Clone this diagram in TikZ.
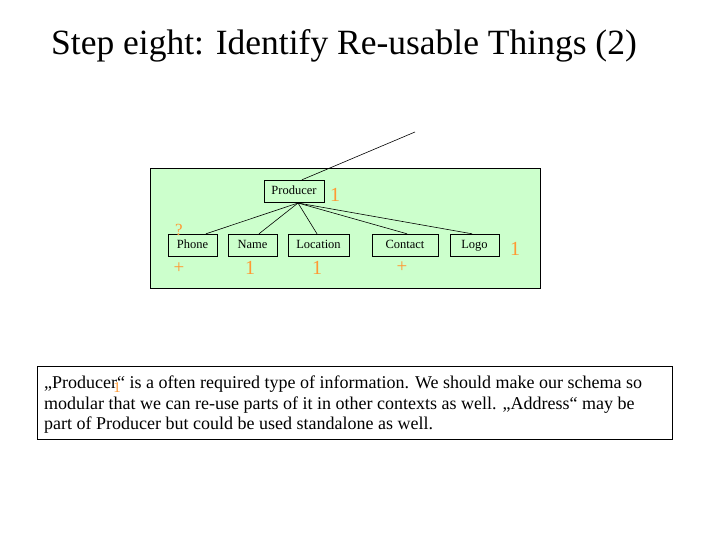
\documentclass[tikz,border=0pt]{standalone}
\usepackage{fontspec}
\setmainfont{Liberation Serif}
\usetikzlibrary{positioning}
\definecolor{panelgreen}{HTML}{CCFFCC}
\definecolor{markorange}{HTML}{FF9933}

\begin{document}
\begin{tikzpicture}[
    x=1pt, y=-1pt,
    thin,
    entity/.style={rectangle, draw=black, fill=panelgreen, minimum height=22pt, inner sep=1pt, text height=9pt, text depth=2.5pt, font=\fontsize{12.5}{13}\selectfont},
    card/.style={text=markorange, inner sep=0pt, font=\fontsize{20}{20}\selectfont},
    link/.style={draw=black, line width=0.6pt}
]
\useasboundingbox (0,0) rectangle (720,540);

% Title
\node[anchor=west, inner sep=0pt, font=\fontsize{35.5}{38}\selectfont] (title) at (51,46) {Step eight: Identify Re-usable Things (2)};

% Panel
\draw[fill=panelgreen, line width=0.8pt] (150,168) rectangle (540,288);

% Entities
\node[entity, minimum width=60pt] (prod) at (294,191) {Producer};
\node[entity, minimum width=49pt] (phone) at (192.5,245) {Phone};
\node[entity, minimum width=49pt] (name) at (252.5,245) {Name};
\node[entity, minimum width=61pt] (loc) at (318.5,245) {Location};
\node[entity, minimum width=66pt] (contact) at (405,245) {Contact};
\node[entity, minimum width=49pt] (logo) at (474.5,245) {Logo};

% Connectors
\coordinate (up) at (415,132);
\coordinate (hub) at (298,203);
\draw[link] ([xshift=8pt]prod.north) -- (up);
\draw[link] (hub) -- ([xshift=13.5pt]phone.north);
\draw[link] (hub) -- ([xshift=6.5pt]name.north);
\draw[link] (hub) -- ([xshift=-1.5pt]loc.north);
\draw[link] (hub) -- ([xshift=2pt]contact.north);
\draw[link] (hub) -- ([xshift=-2.5pt]logo.north);

% Cardinalities
\node[card] (cprod) at (335,195) {1};
\node[card, font=\fontsize{17}{17}\selectfont] (qphone) at (179,230) {?};
\node[card, font=\fontsize{19}{19}\selectfont] (cphone) at (179,268) {+};
\node[card] (cname) at (250,268) {1};
\node[card] (cloc) at (317,268) {1};
\node[card, font=\fontsize{19}{19}\selectfont] (ccontact) at (402,267) {+};
\node[card] (clogo) at (515,249) {1};

% Note
\draw[line width=0.8pt] (37,366) rectangle (672,439);
\node[anchor=north west, inner sep=0pt, align=left, font=\fontsize{18}{20.5}\selectfont] (note) at (44,376)
  {„Producer“ is a often required type of information. We should make our schema so\\
   modular that we can re-use parts of it in other contexts as well. „Address“ may be\\
   part of Producer but could be used standalone as well.};
\node[card, font=\fontsize{15}{15}\selectfont] (cnote) at (117,388) {1};
\end{tikzpicture}
\end{document}
